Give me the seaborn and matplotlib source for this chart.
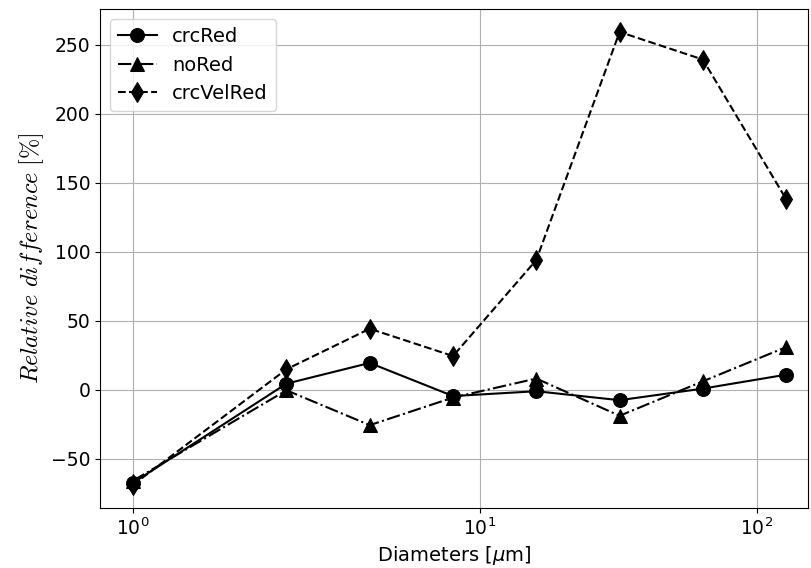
import matplotlib
matplotlib.use("Agg")
import matplotlib.pyplot as plt
from matplotlib.ticker import NullLocator
import seaborn as sns
import pandas as pd

# Particle diameters [um] and relative differences [%] per reduction scheme
diameters = [1, 2, 4, 8, 16, 32, 64, 128]
crc_red = [-67.5, 4.5, 19.5, -4.5, -1.0, -7.5, 0.9, 11.0]
no_red = [-66.0, -0.3, -25.6, -5.6, 8.2, -18.8, 6.2, 31.0]
crc_vel_red = [-69.0, 14.9, 44.3, 24.5, 94.1, 259.4, 239.4, 138.2]

series = [
    ("crcRed", crc_red, "-", "o"),
    ("noRed", no_red, "-.", "^"),
    ("crcVelRed", crc_vel_red, "--", "d"),
]

fig = plt.figure(figsize=(8.11, 5.68), dpi=100)
ax = fig.add_axes([100.3 / 811, 1 - 507.7 / 568, (808 - 100.3) / 811, (507.7 - 9.3) / 568])

for name, vals, ls, mk in series:
    df = pd.DataFrame({"d": diameters, "v": vals})
    sns.lineplot(data=df, x="d", y="v", ax=ax, color="black", linestyle=ls,
                 marker=mk, markersize=10, linewidth=1.5,
                 markeredgecolor="black", sort=False, legend=False)

ax.set_xscale("symlog", linthresh=2)
ax.set_xlim(0.789, 153.5)
ax.xaxis.set_minor_locator(NullLocator())
ax.grid(True, which="major", color="#b0b0b0", linewidth=0.8)
ax.set_axisbelow(True)

ax.tick_params(labelsize=13.5)
ax.set_xlabel(r"Diameters [$\mu$m]", fontsize=14)
ax.set_ylabel(r"$Relative\ difference\ [\%]$", fontsize=17.5, math_fontfamily="cm",
              labelpad=4)

ax.legend(handles=list(ax.lines), labels=[s[0] for s in series],
          loc="upper left", fontsize=14)

fig.savefig("out.png", dpi=100)
